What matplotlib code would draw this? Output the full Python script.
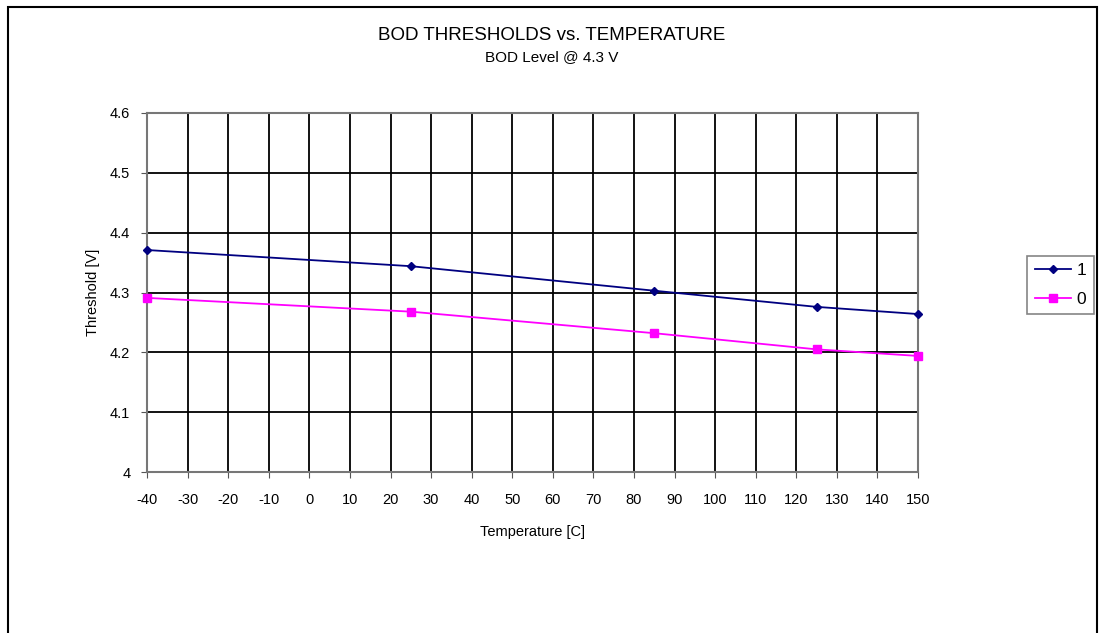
import matplotlib.pyplot as plt
from matplotlib.patches import Rectangle

plt.rcParams['font.family'] = ['Liberation Sans', 'DejaVu Sans']

temps = [-40, 25, 85, 125, 150]
level_1 = [4.371, 4.344, 4.303, 4.276, 4.264]
level_0 = [4.291, 4.268, 4.232, 4.205, 4.194]
x_ticks = list(range(-40, 151, 10))
y_ticks = [4.0, 4.1, 4.2, 4.3, 4.4, 4.5, 4.6]
y_tick_labels = ['4', '4.1', '4.2', '4.3', '4.4', '4.5', '4.6']

fig = plt.figure(figsize=(11.03, 6.33), dpi=100)
ax = fig.add_axes([0.1333, 0.2543, 0.699, 0.5672])

# outer chart frame
fig.patches.append(Rectangle((8 / 1103, -0.1), 1089 / 1103, 1 - 7 / 633 + 0.1,
                             transform=fig.transFigure, fill=False,
                             edgecolor='black', linewidth=1.5))

ax.plot(temps, level_1, color='#000080', marker='D', markersize=4.5, linewidth=1.3,
        label='1', clip_on=False, zorder=3)
ax.plot(temps, level_0, color='#ff00ff', marker='s', markersize=5.5, linewidth=1.3,
        label='0', clip_on=False, zorder=3)

ax.set_xlim(-40, 150)
ax.set_ylim(4.0, 4.6)
ax.set_xticks(x_ticks)
ax.set_xticklabels([str(t) for t in x_ticks], fontsize=10.5)
ax.set_yticks(y_ticks)
ax.set_yticklabels(y_tick_labels, fontsize=10.5)
ax.tick_params(direction='out', length=4, color='#555555', pad=8)
ax.tick_params(axis='x', pad=11)
ax.grid(True, color='black', linewidth=1.3)
ax.set_axisbelow(True)
for s in ax.spines.values():
    s.set_color('#777777')
    s.set_linewidth(1.5)

ax.set_xlabel('Temperature [C]', fontsize=10.5, labelpad=13)
ax.set_ylabel('Threshold [V]', fontsize=10.5, labelpad=7)

fig.text(0.5, 1 - 35 / 633, 'BOD THRESHOLDS vs. TEMPERATURE', ha='center', va='center', fontsize=13.5)
fig.text(0.5, 1 - 57 / 633, 'BOD Level @ 4.3 V', ha='center', va='center', fontsize=11)

leg = ax.legend(loc='center left', bbox_to_anchor=(1027 / 1103, 1 - 285 / 633),
                bbox_transform=fig.transFigure, fontsize=12.5, frameon=True,
                fancybox=False, handlelength=2.1, handletextpad=0.3,
                borderpad=0.45, labelspacing=0.75, borderaxespad=0)
leg.get_frame().set_edgecolor('#666666')
leg.get_frame().set_linewidth(1.2)

fig.savefig('out.png', dpi=100)
